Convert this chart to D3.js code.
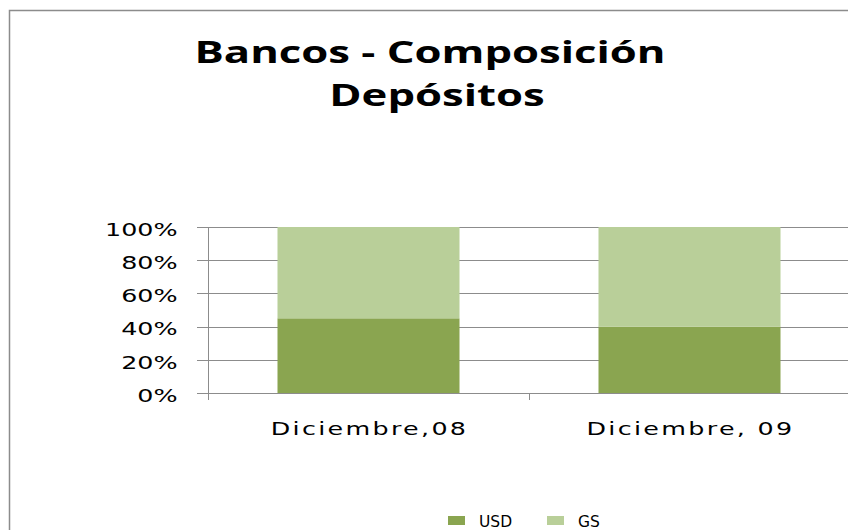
<!DOCTYPE html>
<html lang="es">
<head>
<meta charset="UTF-8">
<title>Bancos - Composición Depósitos</title>
<script src="https://cdn.jsdelivr.net/npm/d3@7"></script>
<style>
  html, body { margin: 0; padding: 0; background: #fff; overflow: hidden; }
  svg { display: block; font-family: "Open Sans", "DejaVu Sans", sans-serif; }
</style>
</head>
<body>
<div id="chart"></div>
<script>
const categories = ['Diciembre,08', 'Diciembre, 09']
const usd = [45, 40]
const gs = [55, 60]
const seriesNames = ['USD', 'GS']
const yTicks = [0, 20, 40, 60, 80, 100]

const colors = { USD: '#8aa550', GS: '#b9cf99' }

const W = 848, H = 530
const stretch = 1.45  // the original picture is wider than its text
const svg = d3.select('#chart').append('svg').attr('width', W).attr('height', H)

// chart frame (runs off the right and bottom edges)
svg.append('rect').attr('x', 9.5).attr('y', 10.5).attr('width', 860).attr('height', 560)
  .style('fill', '#fff').style('stroke', '#8c8c8c').style('stroke-width', 1.5)

// title
const titleLines = [['Bancos - Composición', 430, 63], ['Depósitos', 437, 106]]
titleLines.forEach(([t, cx, by]) => {
  svg.append('text').attr('text-anchor', 'middle')
    .attr('transform', `translate(${cx},${by}) scale(1.48,1)`)
    .style('font-weight', 'bold').style('font-size', '29.5px').style('fill', '#000')
    .text(t)
})

const plot = { left: 208, right: 850, top: 227, bottom: 393 }

const x = d3.scaleBand().domain(categories).range([plot.left, plot.right]).paddingInner(0.433).paddingOuter(0.2165)
const y = d3.scaleLinear().domain([0, 100]).range([plot.bottom, plot.top])

// gridlines
svg.append('g').selectAll('line').data(yTicks).enter().append('line')
  .attr('x1', plot.left - 11).attr('x2', plot.right)
  .attr('y1', d => Math.round(y(d)) + 0.5).attr('y2', d => Math.round(y(d)) + 0.5)
  .style('stroke', '#8c8c8c').style('stroke-width', 1)

// stacked bars
const rows = categories.map((c, i) => ({ cat: c, USD: usd[i], GS: gs[i] }))
const stack = d3.stack().keys(seriesNames)(rows)
svg.append('g').selectAll('g').data(stack).enter().append('g')
  .style('fill', d => colors[d.key])
  .selectAll('rect').data(d => d).enter().append('rect')
  .attr('x', d => x(d.data.cat))
  .attr('width', x.bandwidth())
  .attr('y', d => y(d[1]))
  .attr('height', d => y(d[0]) - y(d[1]))

// y axis
const yAxis = svg.append('g').attr('transform', `translate(${plot.left + 0.5},0)`)
  .call(d3.axisLeft(y).tickValues(yTicks).tickFormat(d => d + '%').tickSize(0))
yAxis.select('.domain').remove()
yAxis.append('line').attr('x1', 0).attr('x2', 0).attr('y1', plot.top).attr('y2', plot.bottom + 7)
  .style('stroke', '#8c8c8c')
yAxis.selectAll('.tick text').attr('x', 0).attr('dy', '0.36em')
  .attr('transform', `translate(-31,2) scale(${stretch},1)`)
  .style('font-size', '17.5px').style('fill', '#000')
  .style('font-family', '"DejaVu Sans", sans-serif')

// x axis
const xAxis = svg.append('g').attr('transform', `translate(0,${plot.bottom})`)
  .call(d3.axisBottom(x).tickSize(0))
xAxis.select('.domain').remove()
xAxis.selectAll('.tick text').attr('y', 0).attr('dy', 0)
  .attr('transform', `translate(1,42) scale(${stretch},1)`)
  .style('font-size', '17.5px').style('fill', '#000')
  .style('letter-spacing', '1.6px').style('font-family', '"DejaVu Sans", sans-serif')
const mids = categories.slice(1).map((c, i) => (x(categories[i]) + x.bandwidth() + x(c)) / 2)
xAxis.selectAll('.sep').data(mids).enter().append('line').attr('class', 'sep')
  .attr('x1', d => Math.round(d) + 0.5).attr('x2', d => Math.round(d) + 0.5)
  .attr('y1', 0).attr('y2', 7).style('stroke', '#8c8c8c')

// legend
const legend = svg.append('g').attr('transform', 'translate(448,515)')
const offs = [0, 99]
seriesNames.forEach((s, i) => {
  const g = legend.append('g').attr('transform', `translate(${offs[i]},0)`)
  g.append('rect').attr('x', 0).attr('y', 1).attr('width', 17).attr('height', 9).style('fill', colors[s])
  g.append('text').attr('x', 31).attr('y', 12).text(s)
    .style('font-size', '15.5px').style('fill', '#000').style('font-family', '"DejaVu Sans", sans-serif')
})
</script>
</body>
</html>
